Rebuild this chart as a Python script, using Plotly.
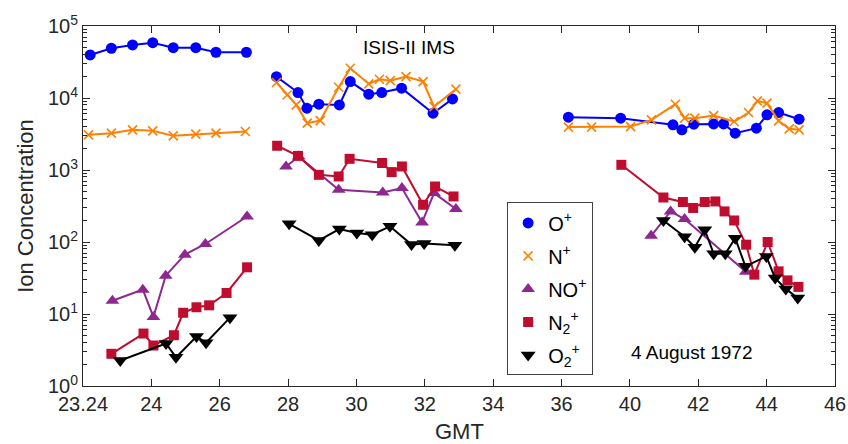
import plotly.graph_objects as go

# ---- x positions in axis units (ticks every 2 units), None separates segments
ticks_pos = [22, 24, 26, 28, 30, 32, 34, 36, 38, 40, 42, 44]
tick_labels = ["23.24", "24", "26", "28", "30", "32", "34", "36", "40", "42", "44", "46"]

op_x = [22.21, 22.83, 23.45, 24.04, 24.64, 25.30, 25.89, 26.78, None,
        27.66, 28.29, 28.55, 28.90, 29.50, 29.82, 30.36, 30.74, 31.32, 32.24, 32.81, None,
        36.20, 37.73, 39.26, 39.52, 39.87, 40.45, 40.74, 41.08, 41.70, 42.01, 42.35, 42.95]
op_y = [39600, 49100, 54500, 58700, 50000, 50000, 43200, 43200, None,
        19800, 11900, 7220, 8210, 8020, 16900, 11300, 11900, 13700, 6150, 9720, None,
        5420, 5250, 4240, 3610, 4330, 4370, 4370, 3250, 3810, 5830, 6270, 5080]

np_x = [22.16, 22.83, 23.45, 24.04, 24.64, 25.30, 25.89, 26.75, None,
        27.66, 27.97, 28.24, 28.56, 28.94, 29.48, 29.82, 30.36, 30.67, 30.99, 31.45, 31.95, 32.27, 32.91, None,
        36.20, 36.88, 38.02, 38.63, 39.33, 39.60, 39.90, 40.45, 41.05, 41.47, 41.73, 42.01, 42.35, 42.66, 42.95]
np_y = [3080, 3250, 3610, 3500, 2980, 3150, 3250, 3420, None,
        16400, 11000, 8020, 4480, 4860, 14100, 25900, 15700, 18200, 17400, 19800, 16900, 7600, 13300, None,
        3940, 3940, 4010, 4970, 8200, 5250, 5250, 5700, 4710, 6280, 9120, 8470, 4810, 3730, 3610]

nop_x = [22.86, 23.75, 24.06, 24.42, 24.98, 25.58, 26.80, None,
         27.94, 28.31, 29.48, 30.77, 31.33, 31.92, 32.27, 32.91, None,
         38.62, 39.19, 39.60, 41.39]
nop_y = [15.3, 21.8, 9.1, 34.1, 66.7, 93.8, 226, None,
         1120, 1540, 531, 487, 561, 187, 478, 287, None,
         122, 266, 208, 38.7]

n2p_x = [22.83, 23.77, 24.06, 24.66, 24.93, 25.32, 25.69, 26.20, 26.80, None,
         27.68, 28.29, 28.90, 29.48, 29.80, 30.75, 31.03, 31.33, 31.95, 32.30, 32.84, None,
         37.75, 38.98, 39.55, 39.85, 40.19, 40.50, 40.77, 41.05, 41.40, 41.64, 42.03, 42.35, 42.61, 42.93]
n2p_y = [2.8, 5.35, 3.65, 5.07, 10.4, 12.4, 13.2, 19.6, 44.5, None,
         2170, 1570, 857, 813, 1430, 1250, 935, 1120, 329, 590, 429, None,
         1180, 415, 359, 297, 359, 366, 266, 199, 91.8, 35.2, 100, 39.1, 29.3, 23.8]

o2p_x = [23.09, 24.43, 24.72, 25.32, 25.60, 26.30, None,
         28.03, 28.90, 29.50, 30.01, 30.46, 30.98, 31.61, 31.98, 32.88, None,
         38.98, 39.60, 39.90, 40.19, 40.45, 40.79, 41.08, 41.38, 41.99, 42.25, 42.56, 42.91]
o2p_y = [2.26, 3.9, 2.5, 4.86, 4.0, 8.9, None,
         179, 105, 151, 133, 126, 165, 92, 95, 90, None,
         199, 118, 84.7, 148, 68.8, 68.8, 113, 45.9, 63.1, 31.5, 22.3, 16.7]

FONT = "Liberation Sans, Arial, Helvetica, sans-serif"
TXT = "#262626"

series = [
    ("O<sup>+</sup>", op_x, op_y, "#0000FF", "circle", 11, 2),
    ("N<sup>+</sup>", np_x, np_y, "#FF8000", "x-thin", 9, 2),
    ("NO<sup>+</sup>", nop_x, nop_y, "#8E278F", "triangle-up", 12, 2),
    ("N<sub>2</sub><sup>+</sup>", n2p_x, n2p_y, "#BF0D2F", "square", 10, 2),
    ("O<sub>2</sub><sup>+</sup>", o2p_x, o2p_y, "#000000", "triangle-down", 13, 2),
]

fig = go.Figure()
for i, (name, xs, ys, col, sym, size, lw) in enumerate(series):
    mline = dict(width=1.6, color=col) if sym == "x-thin" else dict(width=0)
    fig.add_trace(go.Scatter(
        x=xs, y=ys, mode="lines+markers", showlegend=False, connectgaps=False,
        line=dict(color=col, width=lw),
        marker=dict(symbol=sym, size=size, color=col, line=mline),
    ))
for i, (name, xs, ys, col, sym, size, lw) in enumerate(series):
    mline = dict(width=1.6, color=col) if sym == "x-thin" else dict(width=0)
    fig.add_trace(go.Scatter(
        x=[None], y=[None], mode="markers", name=name, legendgroup=str(i),
        marker=dict(symbol=sym, size=size, color=col, line=mline),
    ))

minor_vals = [m * 10 ** k for k in range(5) for m in range(2, 10)]

fig.update_layout(
    width=848, height=444,
    margin=dict(l=83, r=13, t=26, b=58),
    paper_bgcolor="white", plot_bgcolor="white",
    font=dict(family=FONT, color=TXT, size=20),
    showlegend=True,
    legend=dict(x=0.564, y=0.51, xanchor="left", yanchor="top",
                bgcolor="white", bordercolor="#404040", borderwidth=1,
                font=dict(size=20, color="#000000"), tracegroupgap=4,
                itemsizing="trace"),
    xaxis=dict(range=[22, 44], tickmode="array", tickvals=ticks_pos, ticktext=tick_labels,
               ticks="inside", ticklen=7, tickcolor=TXT, showline=True, linecolor=TXT,
               linewidth=1, mirror="allticks", showgrid=False, zeroline=False,
               tickfont=dict(size=20), automargin=False),
    yaxis=dict(type="log", range=[0, 5], tickmode="array",
               tickvals=[1, 10, 100, 1000, 10000, 100000],
               ticktext=["10<sup>%d</sup>" % k for k in range(6)],
               ticks="inside", ticklen=7, tickcolor=TXT, showline=True, linecolor=TXT,
               linewidth=1, mirror="allticks", showgrid=False, zeroline=False,
               tickfont=dict(size=20), automargin=False,
               minor=dict(tickmode="array", tickvals=minor_vals, ticks="inside",
                          ticklen=4, tickcolor=TXT, showgrid=False),
               title=dict(text="Ion Concentration", font=dict(size=22), standoff=8)),
    annotations=[
        dict(text="GMT", xref="paper", yref="paper", x=0.5, y=-0.127,
             xanchor="center", yanchor="middle",
             showarrow=False, font=dict(size=22, color=TXT)),
        dict(text="ISIS-II IMS", xref="paper", yref="paper", x=0.433, y=0.94,
             xanchor="center", yanchor="middle",
             showarrow=False, font=dict(size=19, color="#000000")),
        dict(text="4 August 1972", xref="paper", yref="paper", x=0.81, y=0.092,
             xanchor="center", yanchor="middle",
             showarrow=False, font=dict(size=19, color="#000000")),
    ],
)

fig.write_html("out.html")
